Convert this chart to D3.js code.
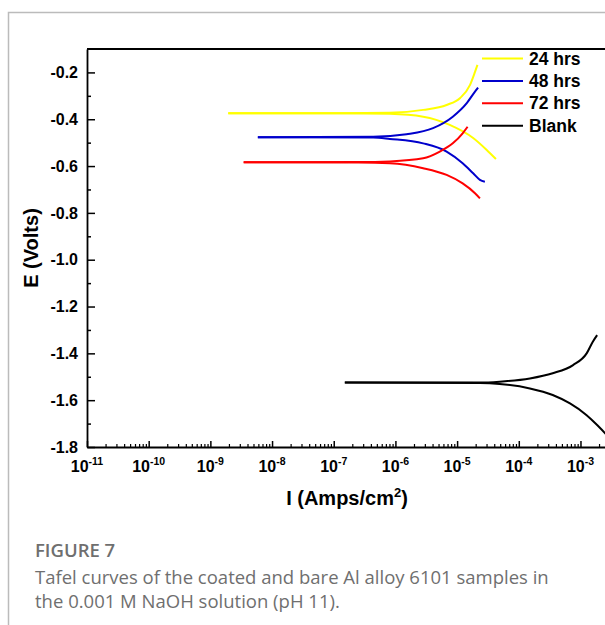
<!DOCTYPE html>
<html>
<head>
<meta charset="utf-8">
<script src="https://cdn.jsdelivr.net/npm/d3@7"></script>
<style>
  body { margin: 0; background: #fff; overflow: hidden; }
  svg { display: block; }
</style>
</head>
<body>
<script>
// series names and colours
var seriesNames = ["24 hrs", "48 hrs", "72 hrs", "Blank"];
var seriesColors = ["#ffff00", "#0000cc", "#ff0000", "#000000"];

// branches: [log10 I (A/cm2), E (V)]
var hrs24Anodic = [[-8.71,-0.374],[-6.90,-0.374],[-6.09,-0.372],[-5.55,-0.360],[-5.17,-0.339],[-4.95,-0.309],[-4.79,-0.253],[-4.71,-0.198],[-4.67,-0.168]];
var hrs24Cathodic = [[-8.71,-0.374],[-6.90,-0.374],[-6.09,-0.377],[-5.55,-0.389],[-5.12,-0.424],[-4.74,-0.480],[-4.52,-0.531],[-4.37,-0.570]];
var hrs48Anodic = [[-8.23,-0.477],[-6.36,-0.475],[-5.82,-0.464],[-5.39,-0.438],[-5.07,-0.389],[-4.84,-0.330],[-4.71,-0.282],[-4.66,-0.265]];
var hrs48Cathodic = [[-8.23,-0.477],[-6.36,-0.478],[-6.09,-0.484],[-5.55,-0.503],[-5.17,-0.538],[-4.91,-0.588],[-4.74,-0.631],[-4.63,-0.659],[-4.55,-0.667]];
var hrs72Anodic = [[-8.46,-0.584],[-6.60,-0.583],[-6.09,-0.580],[-5.55,-0.567],[-5.28,-0.538],[-5.07,-0.503],[-4.91,-0.460],[-4.83,-0.432]];
var hrs72Cathodic = [[-8.46,-0.584],[-6.60,-0.585],[-6.09,-0.588],[-5.55,-0.609],[-5.17,-0.638],[-4.91,-0.674],[-4.71,-0.716],[-4.63,-0.738]];
var blankAnodic = [[-6.82,-1.525],[-4.63,-1.525],[-4.31,-1.521],[-3.82,-1.507],[-3.45,-1.485],[-3.12,-1.450],[-2.90,-1.400],[-2.80,-1.350],[-2.73,-1.322]];
var blankCathodic = [[-6.82,-1.525],[-4.63,-1.527],[-4.31,-1.531],[-3.82,-1.550],[-3.45,-1.578],[-3.17,-1.614],[-2.90,-1.664],[-2.73,-1.706],[-2.60,-1.742],[-2.49,-1.780]];

var branches = [
  [hrs24Anodic, hrs24Cathodic],
  [hrs48Anodic, hrs48Cathodic],
  [hrs72Anodic, hrs72Cathodic],
  [blankAnodic, blankCathodic]
];

// tick values
var xExponents = [-11, -10, -9, -8, -7, -6, -5, -4, -3, -2];
var xLabelExponents = [-11, -10, -9, -8, -7, -6, -5, -4, -3];
var yTicks = [-0.2, -0.4, -0.6, -0.8, -1.0, -1.2, -1.4, -1.6, -1.8];
var yMinorTicks = [-0.3, -0.5, -0.7, -0.9, -1.1, -1.3, -1.5, -1.7];

// plot area
var plotLeft = 87, plotTop = 49, plotBottom = 447, plotRight = 673;

var svg = d3.select("body").append("svg")
    .attr("width", 605)
    .attr("height", 625);

// page frame
svg.append("path")
    .attr("d", "M8.5,625 V12.5 H605")
    .attr("fill", "none")
    .attr("stroke", "#bbbbbb")
    .attr("stroke-width", 1.5);

var x = d3.scaleLog().domain([1e-11, Math.pow(10, -1.5)]).range([plotLeft, plotRight]);
var y = d3.scaleLinear().domain([-1.8, -0.1]).range([plotBottom, plotTop]);

var font = "'Liberation Sans', Arial, sans-serif";

// minor x ticks
var xMinor = [];
xExponents.forEach(function(k) {
  for (var m = 2; m <= 9; m++) xMinor.push(m * Math.pow(10, k));
});

svg.append("g")
    .attr("transform", "translate(0," + plotBottom + ")")
    .call(d3.axisBottom(x).tickValues(xMinor).tickSize(-3).tickSizeOuter(0).tickFormat(""))
    .call(function(g){ g.select(".domain").remove(); })
    .selectAll("line").attr("stroke-width", 1.2);

var xAxis = svg.append("g")
    .attr("transform", "translate(0," + plotBottom + ")")
    .call(d3.axisBottom(x)
      .tickValues(xExponents.map(function(k){ return Math.pow(10, k); }))
      .tickSize(-6).tickSizeOuter(0).tickFormat(""));
xAxis.selectAll("line").attr("stroke-width", 1.5);
xAxis.select(".domain").attr("stroke-width", 1.8);

// x tick labels with superscript exponent
var xLab = svg.append("g")
    .style("font-family", font)
    .style("font-weight", "bold");
xLabelExponents.forEach(function(k) {
  var t = xLab.append("text")
      .attr("x", x(Math.pow(10, k)))
      .attr("y", 472)
      .attr("text-anchor", "middle")
      .style("font-size", "16px");
  t.append("tspan").text("10");
  t.append("tspan").attr("dy", -7).style("font-size", "10.5px").text(k);
});

// y axis
svg.append("g")
    .attr("transform", "translate(" + plotLeft + ",0)")
    .call(d3.axisLeft(y).tickValues(yMinorTicks).tickSize(-4).tickFormat(""))
    .call(function(g){ g.select(".domain").remove(); })
    .selectAll("line").attr("stroke-width", 1.5);

var yAxis = svg.append("g")
    .attr("transform", "translate(" + plotLeft + ",0)")
    .call(d3.axisLeft(y).tickValues(yTicks).tickSize(-8).tickSizeOuter(0).tickPadding(9));
yAxis.selectAll("line").attr("stroke-width", 1.5);
yAxis.select(".domain").attr("stroke-width", 1.8);
yAxis.selectAll("text")
    .style("font-family", font)
    .style("font-weight", "bold")
    .style("font-size", "16px")
    .text(function(d){ return d.toFixed(1); });

// top frame line
svg.append("line")
    .attr("x1", plotLeft).attr("x2", plotRight)
    .attr("y1", plotTop).attr("y2", plotTop)
    .attr("stroke", "#000")
    .attr("stroke-width", 1.8);

// curves
var line = d3.line()
    .x(function(d){ return x(Math.pow(10, d[0])); })
    .y(function(d){ return y(d[1]); })
    .curve(d3.curveMonotoneX);

branches.forEach(function(pair, i) {
  pair.forEach(function(b) {
    svg.append("path")
        .datum(b)
        .attr("d", line)
        .attr("fill", "none")
        .attr("stroke", seriesColors[i])
        .attr("stroke-width", 2);
  });
});

// legend
var legendY = [58.5, 81, 103.3, 125.7];
var legend = svg.append("g");
seriesNames.forEach(function(name, i) {
  legend.append("line")
      .attr("x1", 482).attr("x2", 523)
      .attr("y1", legendY[i]).attr("y2", legendY[i])
      .attr("stroke", seriesColors[i])
      .attr("stroke-width", 2);
  legend.append("text")
      .attr("x", 529)
      .attr("y", legendY[i])
      .attr("dy", "0.35em")
      .style("font-family", font)
      .style("font-weight", "bold")
      .style("font-size", "17.5px")
      .text(name);
});

// axis titles
var xt = svg.append("text")
    .attr("x", 347)
    .attr("y", 505)
    .attr("text-anchor", "middle")
    .style("font-family", font)
    .style("font-weight", "bold")
    .style("font-size", "20px");
xt.append("tspan").text("I (Amps/cm");
xt.append("tspan").attr("dy", -8).style("font-size", "13px").text("2");
xt.append("tspan").attr("dy", 8).text(")");

svg.append("text")
    .attr("transform", "translate(38,248) rotate(-90)")
    .attr("text-anchor", "middle")
    .style("font-family", font)
    .style("font-weight", "bold")
    .style("font-size", "20px")
    .text("E (Volts)");

// caption
var cap = svg.append("g")
    .style("font-family", "'Open Sans', sans-serif")
    .style("fill", "#6f6f6f");
cap.append("text").attr("x", 35).attr("y", 557)
    .style("font-size", "18.5px").style("font-weight", 600).text("FIGURE 7");
cap.append("text").attr("x", 35).attr("y", 584)
    .style("font-size", "18.5px").text("Tafel curves of the coated and bare Al alloy 6101 samples in");
cap.append("text").attr("x", 35).attr("y", 608)
    .style("font-size", "18.5px").text("the 0.001 M NaOH solution (pH 11).");
</script>
</body>
</html>
